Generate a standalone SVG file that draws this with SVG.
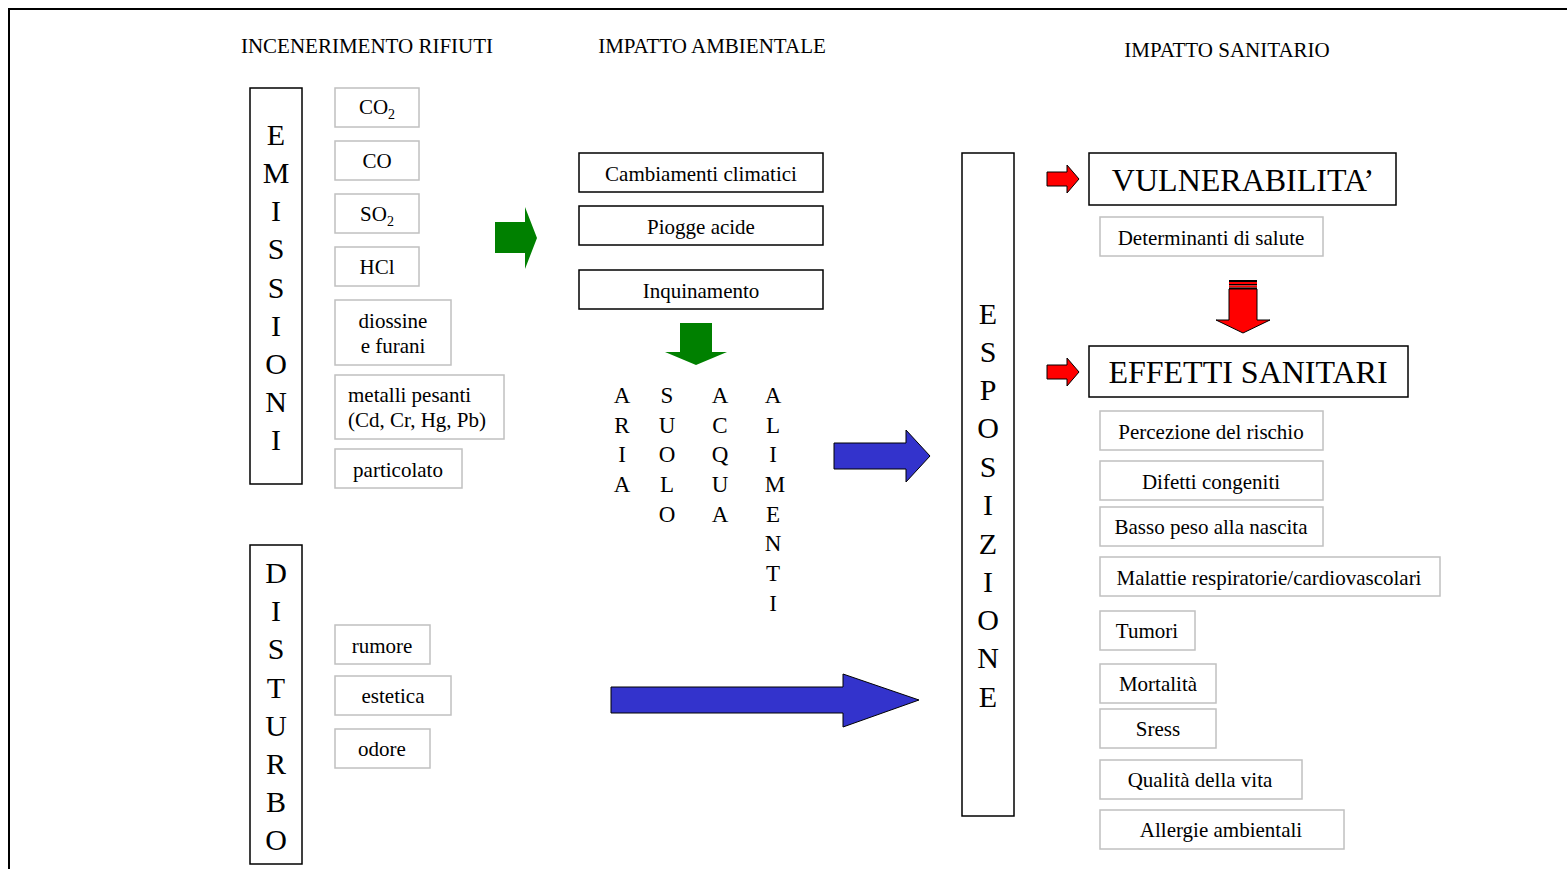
<svg xmlns="http://www.w3.org/2000/svg" width="1567" height="869" viewBox="0 0 1567 869">
<style>
text{font-family:"Liberation Serif","Times New Roman",serif;fill:#000}
.hd{font-size:21px;text-anchor:middle}
.lb{font-size:21px;text-anchor:middle}
.ls{font-size:21px;text-anchor:start}
.lt{fill:#fff;stroke:#c0c0c0;stroke-width:1.5}
.bk{fill:#fff;stroke:#000;stroke-width:1.5}
.vl{font-size:30px;text-anchor:middle}
.cl{font-size:23px;text-anchor:middle}
.big{font-size:32px;text-anchor:middle}
</style>
<rect width="1567" height="869" fill="#fff"/>
<path d="M9,869 V9 H1567" fill="none" stroke="#000" stroke-width="2"/>
<g id="headers">
<text class="hd" x="367" y="53">INCENERIMENTO RIFIUTI</text>
<text class="hd" x="712" y="53">IMPATTO AMBIENTALE</text>
<text class="hd" x="1227" y="57">IMPATTO SANITARIO</text>
</g>
<g id="emissioni">
<rect class="bk" x="250" y="88" width="52" height="396"/>
<text class="vl"><tspan x="276" y="145">E</tspan><tspan x="276" y="183">M</tspan><tspan x="276" y="221">I</tspan><tspan x="276" y="259">S</tspan><tspan x="276" y="298">S</tspan><tspan x="276" y="336">I</tspan><tspan x="276" y="374">O</tspan><tspan x="276" y="412">N</tspan><tspan x="276" y="450">I</tspan></text>
</g>
<g id="disturbo">
<rect class="bk" x="250" y="545" width="52" height="319"/>
<text class="vl"><tspan x="276" y="583">D</tspan><tspan x="276" y="621">I</tspan><tspan x="276" y="659">S</tspan><tspan x="276" y="698">T</tspan><tspan x="276" y="736">U</tspan><tspan x="276" y="774">R</tspan><tspan x="276" y="812">B</tspan><tspan x="276" y="850">O</tspan></text>
</g>
<g id="co2"><rect class="lt" x="335" y="88" width="84" height="39"/><text class="lb" x="377" y="114">CO<tspan font-size="14" dy="5">2</tspan></text></g>
<g id="co"><rect class="lt" x="335" y="141" width="84" height="39"/><text class="lb" x="377" y="168">CO</text></g>
<g id="so2"><rect class="lt" x="335" y="194" width="84" height="39"/><text class="lb" x="377" y="221">SO<tspan font-size="14" dy="5">2</tspan></text></g>
<g id="hcl"><rect class="lt" x="335" y="247" width="84" height="39"/><text class="lb" x="377" y="274">HCl</text></g>
<g id="diossine"><rect class="lt" x="335" y="300" width="116" height="65"/><text class="lb" x="393" y="328">diossine</text><text class="lb" x="393" y="353">e furani</text></g>
<g id="metalli"><rect class="lt" x="335" y="375" width="169" height="64"/><text class="ls" x="348" y="402">metalli pesanti</text><text class="ls" x="348" y="427">(Cd, Cr, Hg, Pb)</text></g>
<g id="particolato"><rect class="lt" x="335" y="449" width="127" height="39"/><text class="lb" x="398" y="477">particolato</text></g>
<g id="rumore"><rect class="lt" x="335" y="625" width="95" height="39"/><text class="lb" x="382" y="653">rumore</text></g>
<g id="estetica"><rect class="lt" x="335" y="676" width="116" height="39"/><text class="lb" x="393" y="703">estetica</text></g>
<g id="odore"><rect class="lt" x="335" y="729" width="95" height="39"/><text class="lb" x="382" y="756">odore</text></g>
<g id="cambiamenti"><rect class="bk" x="579" y="153" width="244" height="39"/><text class="lb" x="701" y="181">Cambiamenti climatici</text></g>
<g id="piogge"><rect class="bk" x="579" y="206" width="244" height="39"/><text class="lb" x="701" y="234">Piogge acide</text></g>
<g id="inquinamento"><rect class="bk" x="579" y="270" width="244" height="39"/><text class="lb" x="701" y="298">Inquinamento</text></g>
<g id="matrici">
<text class="cl"><tspan x="622" y="403">A</tspan><tspan x="622" y="433">R</tspan><tspan x="622" y="462">I</tspan><tspan x="622" y="492">A</tspan></text>
<text class="cl"><tspan x="667" y="403">S</tspan><tspan x="667" y="433">U</tspan><tspan x="667" y="462">O</tspan><tspan x="667" y="492">L</tspan><tspan x="667" y="522">O</tspan></text>
<text class="cl"><tspan x="720" y="403">A</tspan><tspan x="720" y="433">C</tspan><tspan x="720" y="462">Q</tspan><tspan x="720" y="492">U</tspan><tspan x="720" y="522">A</tspan></text>
<text class="cl"><tspan x="773" y="403">A</tspan><tspan x="773" y="433">L</tspan><tspan x="773" y="462">I</tspan><tspan x="775" y="492">M</tspan><tspan x="773" y="522">E</tspan><tspan x="773" y="551">N</tspan><tspan x="773" y="581">T</tspan><tspan x="773" y="611">I</tspan></text>
</g>
<g id="esposizione">
<rect class="bk" x="962" y="153" width="52" height="663"/>
<text class="vl"><tspan x="988" y="324">E</tspan><tspan x="988" y="362">S</tspan><tspan x="988" y="400">P</tspan><tspan x="988" y="438">O</tspan><tspan x="988" y="477">S</tspan><tspan x="988" y="515">I</tspan><tspan x="988" y="554">Z</tspan><tspan x="988" y="592">I</tspan><tspan x="988" y="630">O</tspan><tspan x="988" y="668">N</tspan><tspan x="988" y="707">E</tspan></text>
</g>
<g id="vulnerabilita"><rect class="bk" x="1089" y="153" width="307" height="52"/><text class="big" x="1243" y="191">VULNERABILITA’</text></g>
<g id="determinanti"><rect class="lt" x="1100" y="217" width="223" height="39"/><text class="lb" x="1211" y="245">Determinanti di salute</text></g>
<g id="effetti"><rect class="bk" x="1089" y="346" width="319" height="51"/><text class="big" x="1248" y="383">EFFETTI SANITARI</text></g>
<g id="percezione"><rect class="lt" x="1100" y="411" width="223" height="39"/><text class="lb" x="1211" y="439">Percezione del rischio</text></g>
<g id="difetti"><rect class="lt" x="1100" y="461" width="223" height="39"/><text class="lb" x="1211" y="489">Difetti congeniti</text></g>
<g id="basso"><rect class="lt" x="1100" y="507" width="223" height="39"/><text class="lb" x="1211" y="534">Basso peso alla nascita</text></g>
<g id="malattie"><rect class="lt" x="1100" y="557" width="340" height="39"/><text class="lb" x="1269" y="585">Malattie respiratorie/cardiovascolari</text></g>
<g id="tumori"><rect class="lt" x="1100" y="611" width="95" height="39"/><text class="lb" x="1147" y="638">Tumori</text></g>
<g id="mortalita"><rect class="lt" x="1100" y="664" width="116" height="39"/><text class="lb" x="1158" y="691">Mortalità</text></g>
<g id="sress"><rect class="lt" x="1100" y="709" width="116" height="39"/><text class="lb" x="1158" y="736">Sress</text></g>
<g id="qualita"><rect class="lt" x="1100" y="760" width="202" height="39"/><text class="lb" x="1200" y="787">Qualità della vita</text></g>
<g id="allergie"><rect class="lt" x="1100" y="810" width="244" height="39"/><text class="lb" x="1221" y="837">Allergie ambientali</text></g>
<g id="connectors">
<polygon points="495,222 525,222 525,207 537,238 525,269 525,253 495,253" fill="#008000"/>
<polygon points="680,323 712,323 712,352 727,352 696,365 665,352 680,352" fill="#008000"/>
<polygon points="834,443 906,443 906,430 930,456 906,482 906,469 834,469" fill="#3333cc" stroke="#000" stroke-width="1"/>
<polygon points="611,687 843,687 843,674 919,700 843,727 843,713 611,713" fill="#3333cc" stroke="#000" stroke-width="1"/>
<polygon points="1047,172 1067,172 1067,165 1079,179 1067,193 1067,186 1047,186" fill="#ff0000" stroke="#000" stroke-width="1"/>
<polygon points="1047,365 1067,365 1067,358 1079,372 1067,386 1067,379 1047,379" fill="#ff0000" stroke="#000" stroke-width="1"/>
<polygon points="1229,289 1257,289 1257,320 1270,320 1243,333 1216,320 1229,320" fill="#ff0000" stroke="#000" stroke-width="1"/>
<rect x="1229" y="280" width="28" height="2" fill="#000"/>
<rect x="1229" y="282" width="28" height="2" fill="#ff0000"/>
<rect x="1229" y="284" width="28" height="1.5" fill="#000"/>
<rect x="1229" y="285.5" width="28" height="2" fill="#ff0000"/>
<rect x="1229" y="287.5" width="28" height="1.5" fill="#000"/>
</g>
</svg>
